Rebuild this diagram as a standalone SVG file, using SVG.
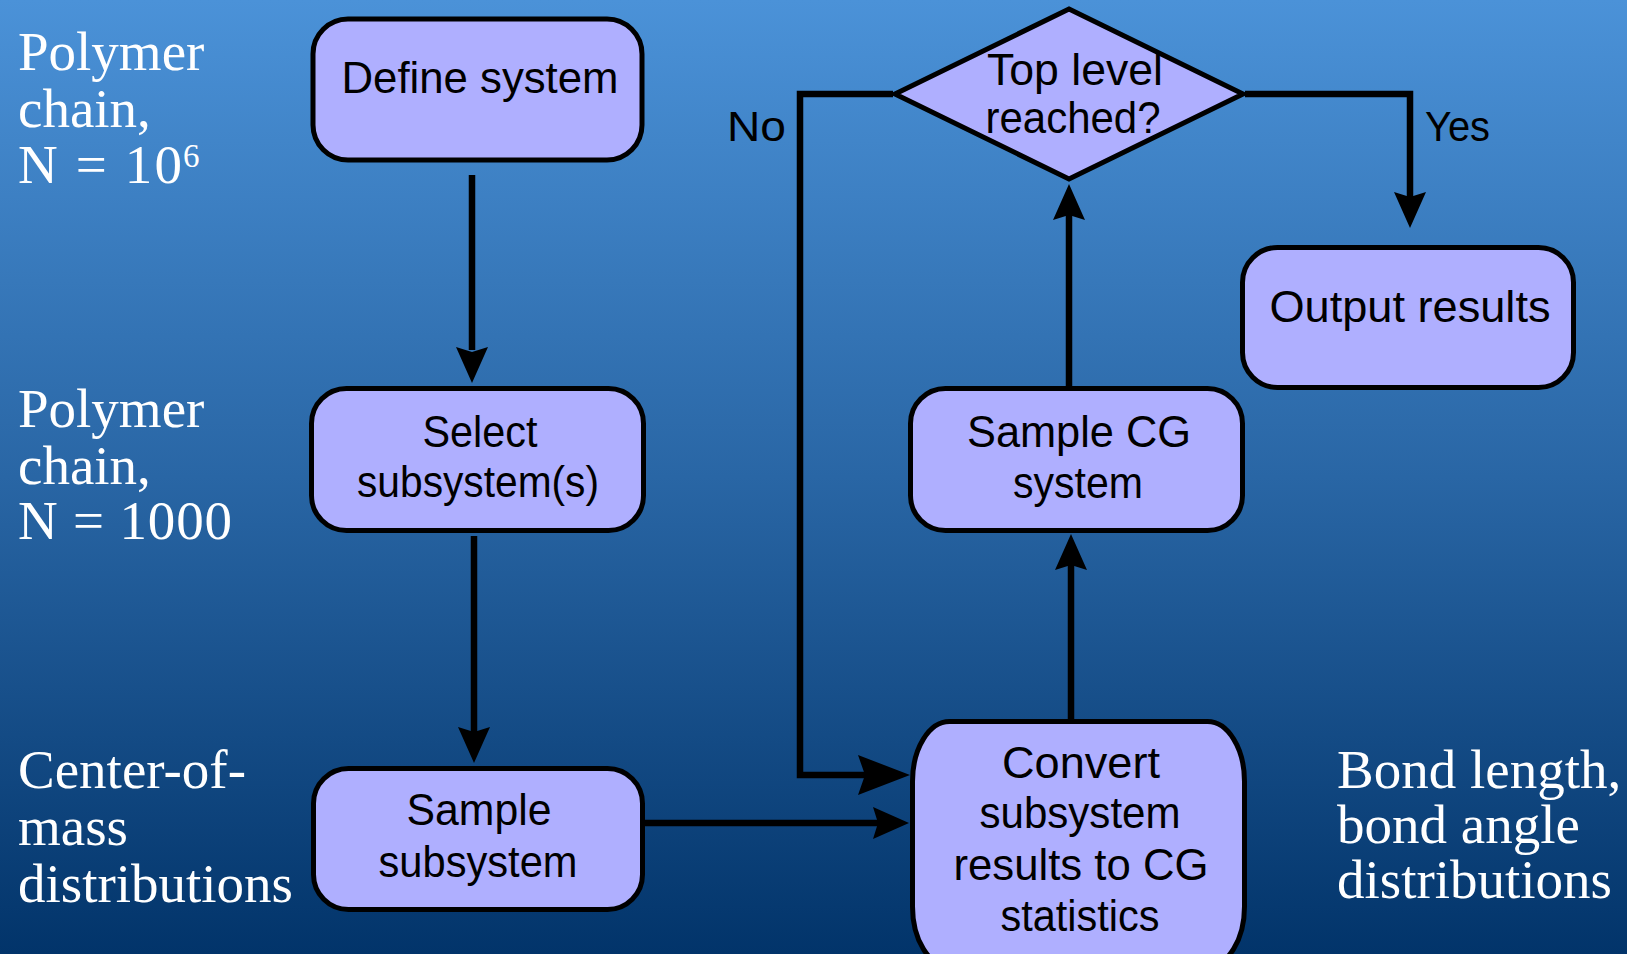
<svg xmlns="http://www.w3.org/2000/svg" xmlns:xlink="http://www.w3.org/1999/xlink" width="1627" height="954" viewBox="0 0 1627 954">
<defs>
<linearGradient id="bg" x1="0" y1="0" x2="0" y2="1">
<stop offset="0" stop-color="#4B92D8"/>
<stop offset="0.5" stop-color="#2966A5"/>
<stop offset="1" stop-color="#02346A"/>
</linearGradient>
<path id="ah" d="M0,0 L-36,-16 L-31,0 L-36,16 Z"/>
<path id="ahBig" d="M0,0 L-52,-20 L-45,0 L-52,20 Z"/>
<style>
.box{fill:#AFAFFF;stroke:#000;stroke-width:5}
.nt{font-family:"Liberation Sans",Arial,sans-serif;font-size:44px;fill:#000;text-anchor:middle}
.lt{font-family:"Liberation Sans",Arial,sans-serif;font-size:42px;fill:#000}
.st{font-family:"Liberation Serif","Times New Roman",serif;font-size:55px;fill:#fff}
.sup{font-size:33px}
.con{fill:none;stroke:#000;stroke-width:6.5}
.head{fill:#000}
</style>
</defs>
<rect x="0" y="0" width="1627" height="954" fill="url(#bg)"/>

<g id="connectors">
<path class="con" d="M472,175 V350"/>
<use class="head" xlink:href="#ah" transform="translate(472,383) rotate(90)"/>
<path class="con" d="M474,536 V732"/>
<use class="head" xlink:href="#ah" transform="translate(474,763) rotate(90)"/>
<path class="con" d="M645,823 H880"/>
<use class="head" xlink:href="#ah" transform="translate(909,823)"/>
<path class="con" d="M893,94 H800 V775 H866"/>
<use class="head" xlink:href="#ahBig" transform="translate(910,775)"/>
<path class="con" d="M1071,719 V565"/>
<use class="head" xlink:href="#ah" transform="translate(1071,534) rotate(-90)"/>
<path class="con" d="M1069,386 V215"/>
<use class="head" xlink:href="#ah" transform="translate(1069,184) rotate(-90)"/>
<path class="con" d="M1245,94 H1410 V197"/>
<use class="head" xlink:href="#ah" transform="translate(1410,228) rotate(90)"/>
<text class="lt" x="727" y="141" textLength="59" lengthAdjust="spacingAndGlyphs">No</text>
<text class="lt" x="1425" y="141" textLength="65" lengthAdjust="spacingAndGlyphs">Yes</text>
</g>

<g id="define-system">
<rect class="box" x="313" y="19" width="329" height="141" rx="35" ry="35"/>
<text class="nt" x="480" y="93" textLength="277" lengthAdjust="spacingAndGlyphs">Define system</text>
</g>

<g id="select-subsystems">
<rect class="box" x="311.5" y="388.5" width="332" height="142" rx="35" ry="35"/>
<text class="nt" x="480" y="447" textLength="115" lengthAdjust="spacingAndGlyphs">Select</text>
<text class="nt" x="478" y="497" textLength="242" lengthAdjust="spacingAndGlyphs">subsystem(s)</text>
</g>

<g id="sample-subsystem">
<rect class="box" x="313.5" y="768.5" width="329" height="141" rx="35" ry="35"/>
<text class="nt" x="479" y="825" textLength="145" lengthAdjust="spacingAndGlyphs">Sample</text>
<text class="nt" x="478" y="877" textLength="199" lengthAdjust="spacingAndGlyphs">subsystem</text>
</g>

<g id="convert">
<rect class="box" x="912.5" y="721.5" width="332" height="245" rx="37" ry="60"/>
<text class="nt" x="1081" y="778" textLength="158" lengthAdjust="spacingAndGlyphs">Convert</text>
<text class="nt" x="1080" y="828" textLength="201" lengthAdjust="spacingAndGlyphs">subsystem</text>
<text class="nt" x="1081" y="880" textLength="255" lengthAdjust="spacingAndGlyphs">results to CG</text>
<text class="nt" x="1080" y="931" textLength="159" lengthAdjust="spacingAndGlyphs">statistics</text>
</g>

<g id="sample-cg-system">
<rect class="box" x="910.5" y="388.5" width="332" height="142" rx="35" ry="35"/>
<text class="nt" x="1079" y="447" textLength="224" lengthAdjust="spacingAndGlyphs">Sample CG</text>
<text class="nt" x="1078" y="498" textLength="130" lengthAdjust="spacingAndGlyphs">system</text>
</g>

<g id="top-level-reached">
<polygon class="box" points="1069,9 1243,94 1069,179 895,94"/>
<text class="nt" x="1075" y="85" textLength="176" lengthAdjust="spacingAndGlyphs">Top level</text>
<text class="nt" x="1073" y="133" textLength="175" lengthAdjust="spacingAndGlyphs">reached?</text>
</g>

<g id="output-results">
<rect class="box" x="1242.5" y="247.5" width="331" height="140" rx="35" ry="35"/>
<text class="nt" x="1410" y="322" textLength="281" lengthAdjust="spacingAndGlyphs">Output results</text>
</g>

<g id="label-polymer-1e6">
<text class="st" x="18" y="70">Polymer</text>
<text class="st" x="18" y="127">chain,</text>
<text class="st" x="18" y="183" textLength="164" lengthAdjust="spacing">N = 10</text>
<text class="st sup" x="183" y="167">6</text>
</g>

<g id="label-polymer-1000">
<text class="st" x="18" y="427">Polymer</text>
<text class="st" x="18" y="484">chain,</text>
<text class="st" x="18" y="539" textLength="214" lengthAdjust="spacing">N = 1000</text>
</g>

<g id="label-com">
<text class="st" x="18" y="788">Center-of-</text>
<text class="st" x="18" y="845">mass</text>
<text class="st" x="18" y="902">distributions</text>
</g>

<g id="label-bond">
<text class="st" x="1337" y="788">Bond length,</text>
<text class="st" x="1337" y="843">bond angle</text>
<text class="st" x="1337" y="898">distributions</text>
</g>
</svg>
